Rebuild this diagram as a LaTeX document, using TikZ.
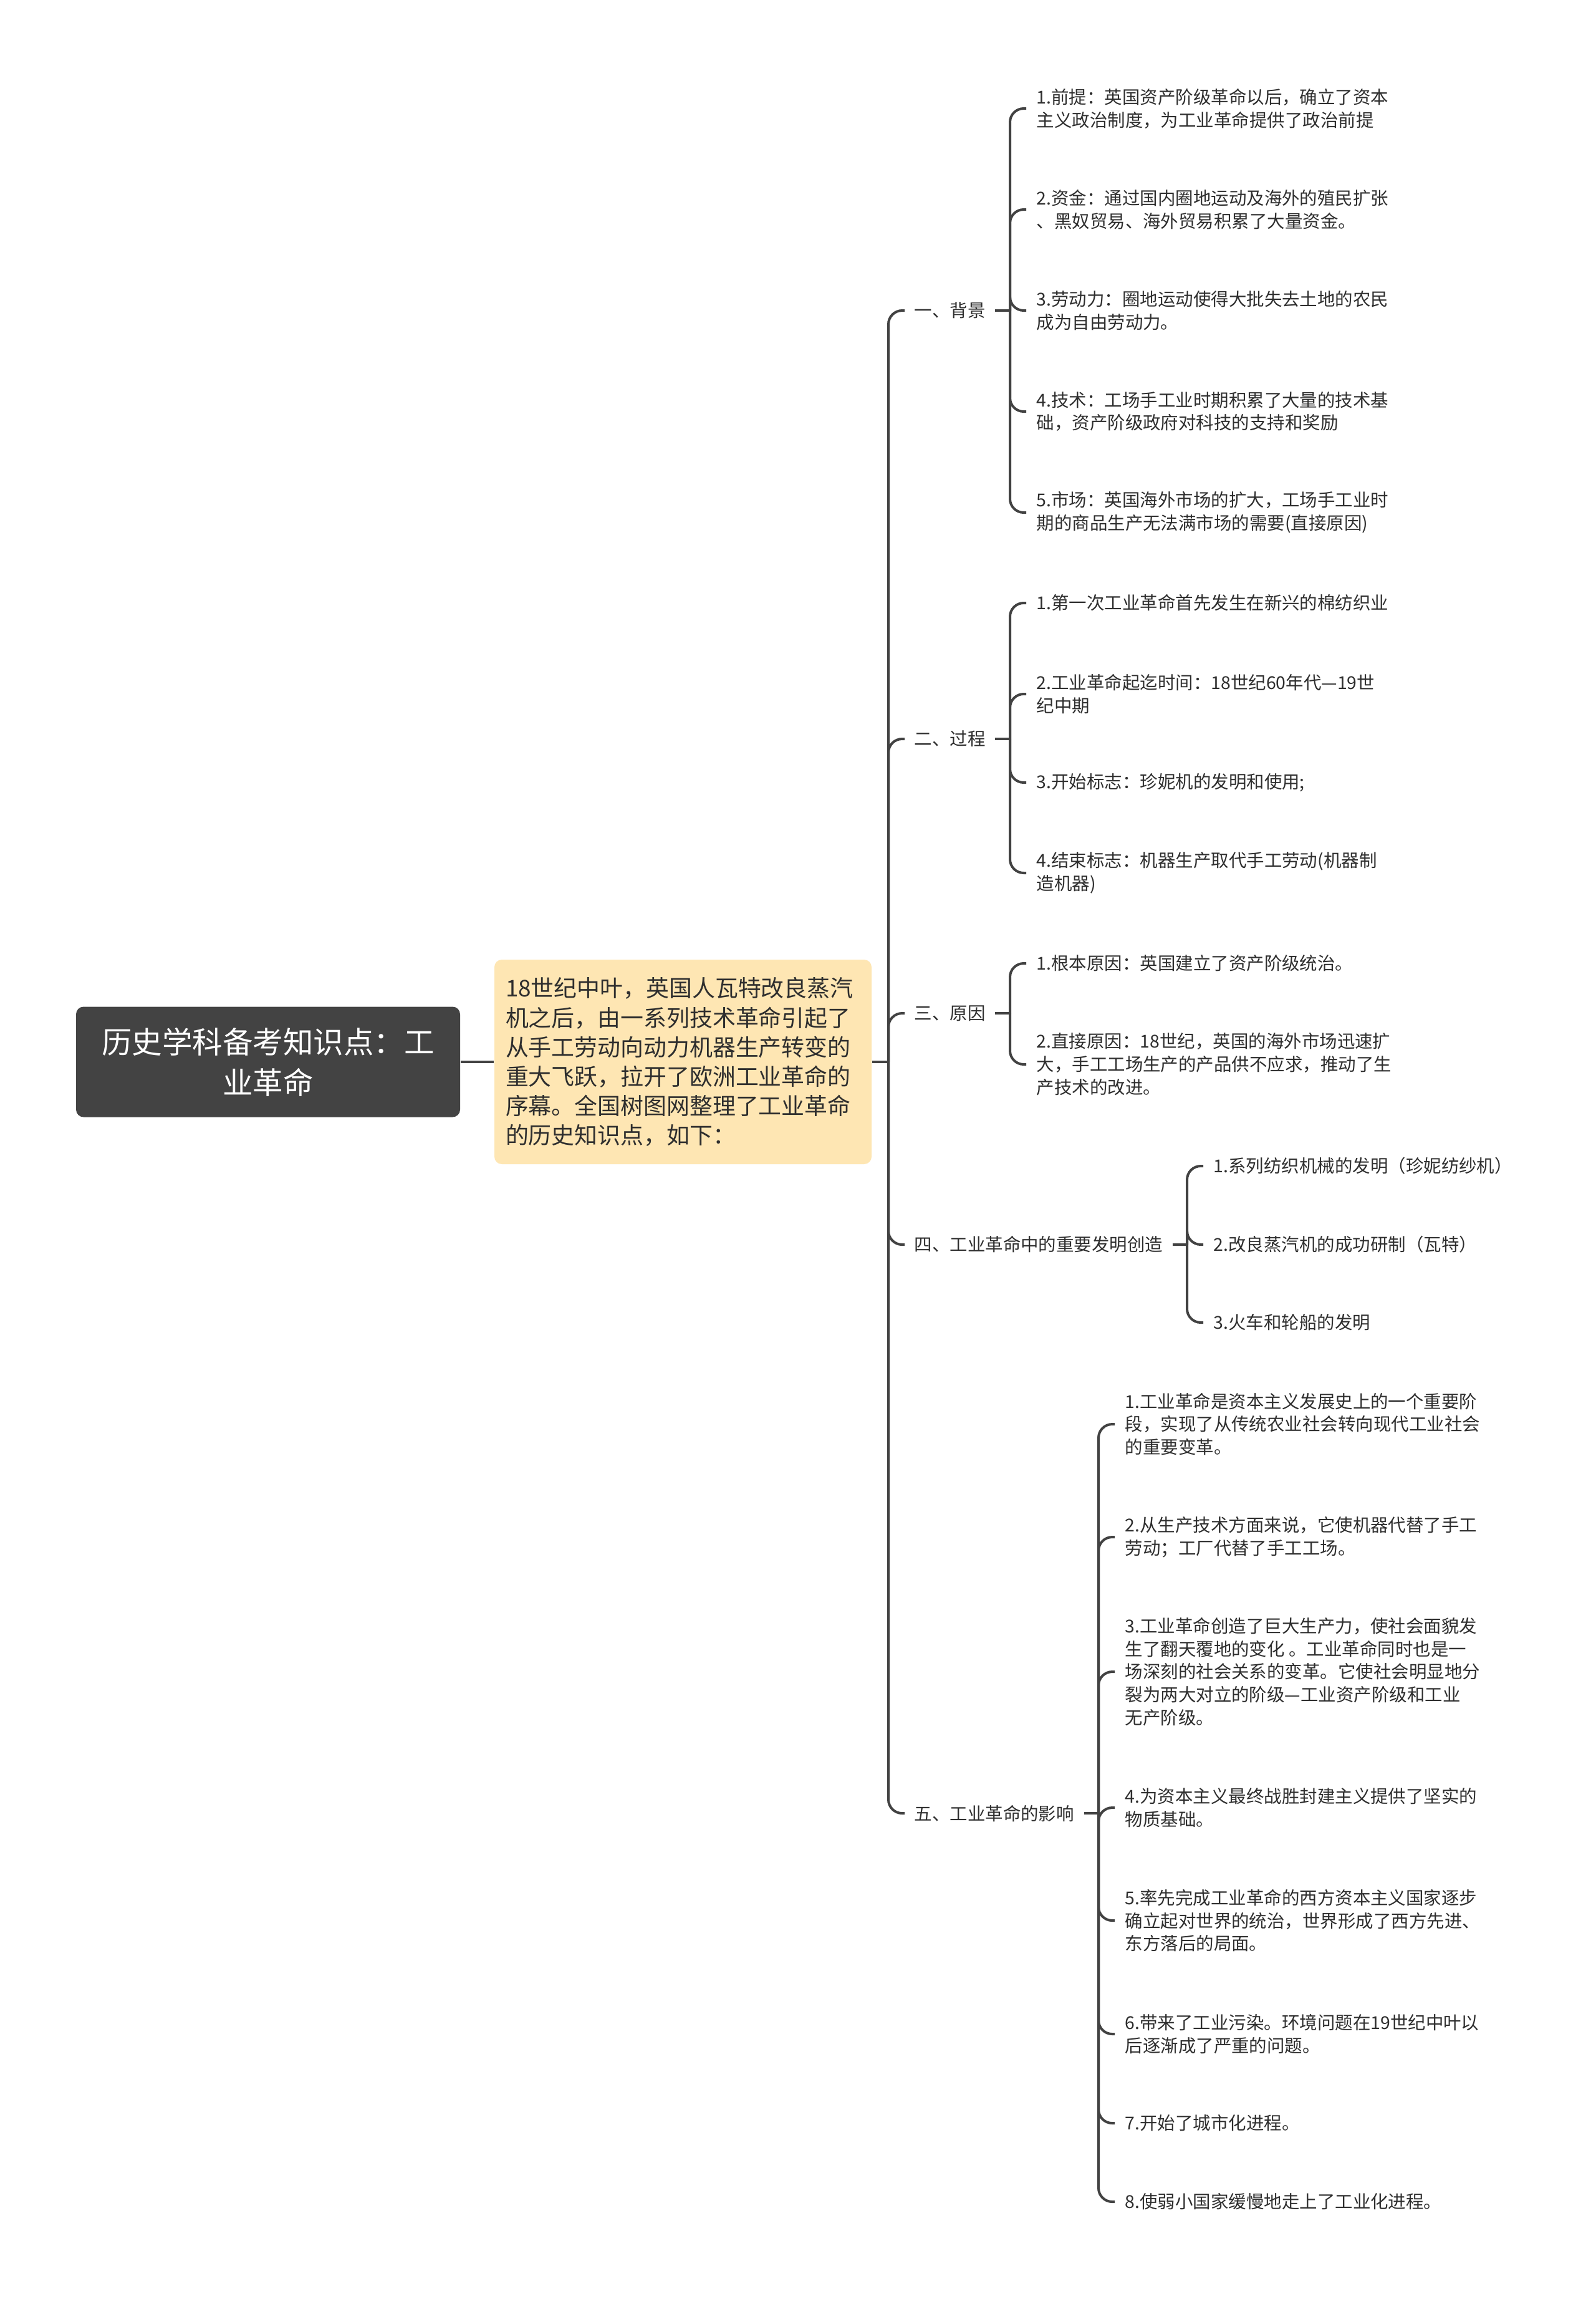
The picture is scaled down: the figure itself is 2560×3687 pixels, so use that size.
\documentclass[tikz,border=0pt]{standalone}
\usepackage{fontspec}
\newfontfamily\cjk{Noto Sans CJK SC}

\definecolor{linegray}{HTML}{424242}
\definecolor{rootgray}{HTML}{434343}
\definecolor{introfill}{HTML}{FEE6B3}
\definecolor{textgray}{HTML}{2E2E2E}

\tikzset{
  link/.style={line width=0.4mm, draw=linegray, rounded corners=2.2mm},
  rootbox/.style={fill=rootgray, text=white, rounded corners=1.2mm, align=center,
    minimum width=61.6mm, minimum height=17.7mm, font=\cjk\fontsize{13.8pt}{18.5pt}\selectfont},
  introbox/.style={fill=introfill, text=textgray, rounded corners=1.2mm, align=left,
    text width=56.9mm, inner xsep=1.8mm, minimum height=32.8mm, font=\cjk\fontsize{10.5pt}{13.4pt}\selectfont},
  topic/.style={anchor=west, text=textgray, inner xsep=1.5mm, inner ysep=0.5mm,
    font=\cjk\fontsize{8.1pt}{10.5pt}\selectfont},
  leaf/.style={anchor=west, text=textgray, align=left, inner xsep=1.6mm, inner ysep=0.5mm,
    font=\cjk\fontsize{8.1pt}{10.5pt}\selectfont}
}

\begin{document}
\begin{tikzpicture}[x=0.1mm, y=-0.1mm]
\useasboundingbox (0,0) rectangle (2560,3687);
\fill[white] (0,0) rectangle (2560,3687);

% centre
\node[rootbox] (root) at (430,1703) {历史学科备考知识点：工\\业革命};
\node[introbox] (intro) at (1095.5,1703) {18世纪中叶，英国人瓦特改良蒸汽\\机之后，由一系列技术革命引起了\\从手工劳动向动力机器生产转变的\\重大飞跃，拉开了欧洲工业革命的\\序幕。全国树图网整理了工业革命\\的历史知识点，如下：};
\coordinate (j0) at (1425,1703);
\draw[link] (root.east) -- (intro.west);
\draw[link] (intro.east) -- (j0);

% main topics
\node[topic] (bg) at (1451,498) {一、背景};
\node[topic] (gc) at (1451,1185) {二、过程};
\node[topic] (yy) at (1451,1625) {三、原因};
\node[topic] (fm) at (1451,1996) {四、工业革命中的重要发明创造};
\node[topic] (yx) at (1451,2908) {五、工业革命的影响};
\foreach \t in {bg,gc,yy,fm,yx}
  \draw[link] (j0) |- (\t.west);

% 一、背景
\coordinate (jbg) at (1620,498);
\node[leaf] (bg1) at (1646,174) {1.前提：英国资产阶级革命以后，确立了资本\\主义政治制度，为工业革命提供了政治前提};
\node[leaf] (bg2) at (1646,336) {2.资金：通过国内圈地运动及海外的殖民扩张\\、黑奴贸易、海外贸易积累了大量资金。};
\node[leaf] (bg3) at (1646,498) {3.劳动力：圈地运动使得大批失去土地的农民\\成为自由劳动力。};
\node[leaf] (bg4) at (1646,660) {4.技术：工场手工业时期积累了大量的技术基\\础，资产阶级政府对科技的支持和奖励};
\node[leaf] (bg5) at (1646,822) {5.市场：英国海外市场的扩大，工场手工业时\\期的商品生产无法满市场的需要(直接原因)};
\draw[link] (bg.east) -- (jbg);
\foreach \c in {bg1,bg2,bg3,bg4,bg5}
  \draw[link] (jbg) |- (\c.west);

% 二、过程
\coordinate (jgc) at (1620,1185);
\node[leaf] (gc1) at (1646,967) {1.第一次工业革命首先发生在新兴的棉纺织业};
\node[leaf] (gc2) at (1646,1113) {2.工业革命起迄时间：18世纪60年代—19世\\纪中期};
\node[leaf] (gc3) at (1646,1255) {3.开始标志：珍妮机的发明和使用;};
\node[leaf] (gc4) at (1646,1400) {4.结束标志：机器生产取代手工劳动(机器制\\造机器)};
\draw[link] (gc.east) -- (jgc);
\foreach \c in {gc1,gc2,gc3,gc4}
  \draw[link] (jgc) |- (\c.west);

% 三、原因
\coordinate (jyy) at (1620,1625);
\node[leaf] (yy1) at (1646,1545) {1.根本原因：英国建立了资产阶级统治。};
\node[leaf] (yy2) at (1646,1707) {2.直接原因：18世纪，英国的海外市场迅速扩\\大，手工工场生产的产品供不应求，推动了生\\产技术的改进。};
\draw[link] (yy.east) -- (jyy);
\foreach \c in {yy1,yy2}
  \draw[link] (jyy) |- (\c.west);

% 四、发明创造
\coordinate (jfm) at (1904,1996);
\node[leaf] (fm1) at (1930,1870) {1.系列纺织机械的发明（珍妮纺纱机）};
\node[leaf] (fm2) at (1930,1996) {2.改良蒸汽机的成功研制（瓦特）};
\node[leaf] (fm3) at (1930,2121) {3.火车和轮船的发明};
\draw[link] (fm.east) -- (jfm);
\foreach \c in {fm1,fm2,fm3}
  \draw[link] (jfm) |- (\c.west);

% 五、影响
\coordinate (jyx) at (1762,2908);
\node[leaf] (yx1) at (1788,2284) {1.工业革命是资本主义发展史上的一个重要阶\\段，实现了从传统农业社会转向现代工业社会\\的重要变革。};
\node[leaf] (yx2) at (1788,2465) {2.从生产技术方面来说，它使机器代替了手工\\劳动；工厂代替了手工工场。};
\node[leaf] (yx3) at (1788,2681) {3.工业革命创造了巨大生产力，使社会面貌发\\生了翻天覆地的变化 。工业革命同时也是一\\场深刻的社会关系的变革。它使社会明显地分\\裂为两大对立的阶级—工业资产阶级和工业\\无产阶级。};
\node[leaf] (yx4) at (1788,2899) {4.为资本主义最终战胜封建主义提供了坚实的\\物质基础。};
\node[leaf] (yx5) at (1788,3080) {5.率先完成工业革命的西方资本主义国家逐步\\确立起对世界的统治，世界形成了西方先进、\\东方落后的局面。};
\node[leaf] (yx6) at (1788,3262) {6.带来了工业污染。环境问题在19世纪中叶以\\后逐渐成了严重的问题。};
\node[leaf] (yx7) at (1788,3405) {7.开始了城市化进程。};
\node[leaf] (yx8) at (1788,3531) {8.使弱小国家缓慢地走上了工业化进程。};
\draw[link] (yx.east) -- (jyx);
\foreach \c in {yx1,yx2,yx3,yx4,yx5,yx6,yx7,yx8}
  \draw[link] (jyx) |- (\c.west);
\end{tikzpicture}
\end{document}
